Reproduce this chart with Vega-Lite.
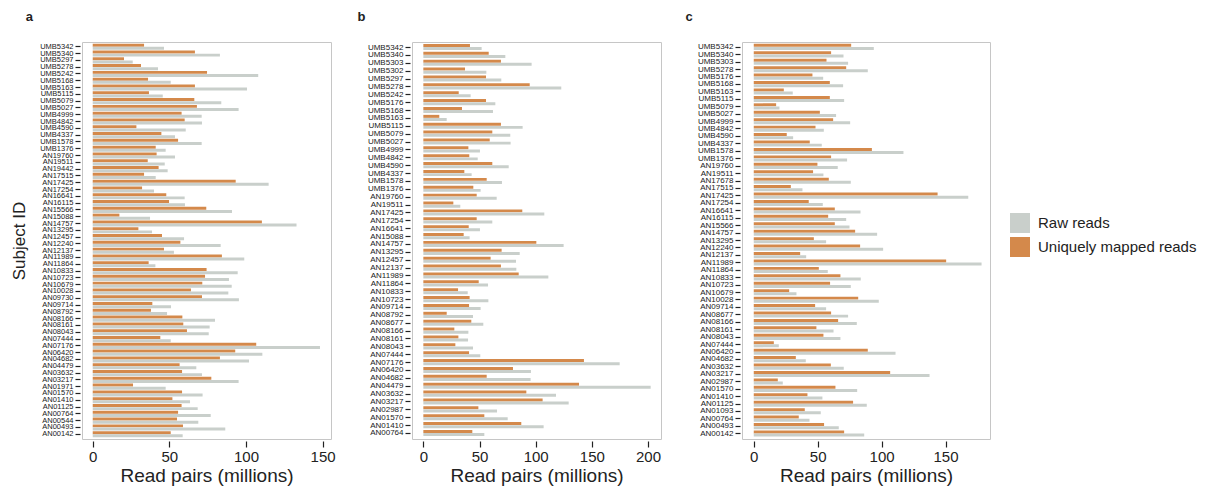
{
"$schema": "https://vega.github.io/schema/vega-lite/v6.json",
"padding": {"left": 10, "top": 10, "right": 5, "bottom": 3},
"bounds": "flush",
"config": {
 "font": "Liberation Sans",
 "view": {"stroke": "#c6c6c6", "strokeWidth": 1},
 "axis": {"domain": false, "grid": false, "tickColor": "#222222", "tickWidth": 1.2, "labelColor": "#222222", "titleColor": "#222222", "titleFontWeight": "normal", "labelFont": "Liberation Sans", "titleFont": "Liberation Sans"},
 "axisX": {"offset": 2, "tickSize": 6, "labelFontSize": 15, "labelPadding": 2, "titleFontSize": 19, "titlePadding": 2},
 "axisY": {"offset": 2, "tickSize": 5, "labelFontSize": 8, "labelPadding": 2, "titleFontSize": 17, "titlePadding": 11},
 "title": {"fontSize": 13, "fontWeight": "bold", "anchor": "start", "frame": "bounds", "offset": 18, "color": "#222222", "font": "Liberation Sans"},
 "legend": {"symbolType": "square", "symbolSize": 400, "symbolStrokeWidth": 0, "labelFontSize": 15, "labelColor": "#222222", "labelOffset": 8, "rowPadding": 4, "labelFont": "Liberation Sans"}
},
"datasets": {
 "a": [
{"id":"UMB5342","t":"uniq","v":33.5},{"id":"UMB5342","t":"raw","v":46.5},
{"id":"UMB5340","t":"uniq","v":66.7},{"id":"UMB5340","t":"raw","v":83.0},
{"id":"UMB5297","t":"uniq","v":20.4},{"id":"UMB5297","t":"raw","v":26.1},
{"id":"UMB5278","t":"uniq","v":31.5},{"id":"UMB5278","t":"raw","v":42.6},
{"id":"UMB5242","t":"uniq","v":74.6},{"id":"UMB5242","t":"raw","v":108.0},
{"id":"UMB5168","t":"uniq","v":36.1},{"id":"UMB5168","t":"raw","v":50.9},
{"id":"UMB5163","t":"uniq","v":66.7},{"id":"UMB5163","t":"raw","v":100.7},
{"id":"UMB5115","t":"uniq","v":36.7},{"id":"UMB5115","t":"raw","v":45.7},
{"id":"UMB5079","t":"uniq","v":66.3},{"id":"UMB5079","t":"raw","v":83.9},
{"id":"UMB5027","t":"uniq","v":68.0},{"id":"UMB5027","t":"raw","v":95.2},
{"id":"UMB4999","t":"uniq","v":58.0},{"id":"UMB4999","t":"raw","v":71.1},
{"id":"UMB4842","t":"uniq","v":60.0},{"id":"UMB4842","t":"raw","v":71.3},
{"id":"UMB4590","t":"uniq","v":28.5},{"id":"UMB4590","t":"raw","v":60.7},
{"id":"UMB4337","t":"uniq","v":44.8},{"id":"UMB4337","t":"raw","v":53.7},
{"id":"UMB1578","t":"uniq","v":55.7},{"id":"UMB1578","t":"raw","v":71.1},
{"id":"UMB1376","t":"uniq","v":41.1},{"id":"UMB1376","t":"raw","v":47.6},
{"id":"AN19760","t":"uniq","v":41.7},{"id":"AN19760","t":"raw","v":53.7},
{"id":"AN19511","t":"uniq","v":35.9},{"id":"AN19511","t":"raw","v":47.0},
{"id":"AN19442","t":"uniq","v":43.0},{"id":"AN19442","t":"raw","v":48.9},
{"id":"AN17515","t":"uniq","v":33.5},{"id":"AN17515","t":"raw","v":41.1},
{"id":"AN17425","t":"uniq","v":93.3},{"id":"AN17425","t":"raw","v":114.8},
{"id":"AN17254","t":"uniq","v":32.2},{"id":"AN17254","t":"raw","v":40.0},
{"id":"AN16641","t":"uniq","v":48.0},{"id":"AN16641","t":"raw","v":60.0},
{"id":"AN16115","t":"uniq","v":49.8},{"id":"AN16115","t":"raw","v":60.2},
{"id":"AN15566","t":"uniq","v":74.1},{"id":"AN15566","t":"raw","v":90.9},
{"id":"AN15088","t":"uniq","v":17.4},{"id":"AN15088","t":"raw","v":37.4},
{"id":"AN14757","t":"uniq","v":110.4},{"id":"AN14757","t":"raw","v":133.0},
{"id":"AN13295","t":"uniq","v":29.8},{"id":"AN13295","t":"raw","v":38.7},
{"id":"AN12457","t":"uniq","v":45.2},{"id":"AN12457","t":"raw","v":59.6},
{"id":"AN12240","t":"uniq","v":57.2},{"id":"AN12240","t":"raw","v":83.5},
{"id":"AN12137","t":"uniq","v":46.5},{"id":"AN12137","t":"raw","v":53.0},
{"id":"AN11989","t":"uniq","v":84.3},{"id":"AN11989","t":"raw","v":98.9},
{"id":"AN11864","t":"uniq","v":36.5},{"id":"AN11864","t":"raw","v":40.9},
{"id":"AN10833","t":"uniq","v":74.3},{"id":"AN10833","t":"raw","v":94.6},
{"id":"AN10723","t":"uniq","v":73.3},{"id":"AN10723","t":"raw","v":88.9},
{"id":"AN10679","t":"uniq","v":71.5},{"id":"AN10679","t":"raw","v":90.7},
{"id":"AN10028","t":"uniq","v":64.1},{"id":"AN10028","t":"raw","v":88.5},
{"id":"AN09730","t":"uniq","v":71.3},{"id":"AN09730","t":"raw","v":95.4},
{"id":"AN09714","t":"uniq","v":38.9},{"id":"AN09714","t":"raw","v":51.1},
{"id":"AN08792","t":"uniq","v":38.0},{"id":"AN08792","t":"raw","v":48.5},
{"id":"AN08166","t":"uniq","v":58.5},{"id":"AN08166","t":"raw","v":79.8},
{"id":"AN08161","t":"uniq","v":59.1},{"id":"AN08161","t":"raw","v":76.3},
{"id":"AN08043","t":"uniq","v":61.5},{"id":"AN08043","t":"raw","v":75.7},
{"id":"AN07444","t":"uniq","v":44.1},{"id":"AN07444","t":"raw","v":50.9},
{"id":"AN07176","t":"uniq","v":106.7},{"id":"AN07176","t":"raw","v":148.3},
{"id":"AN06420","t":"uniq","v":93.0},{"id":"AN06420","t":"raw","v":110.7},
{"id":"AN04682","t":"uniq","v":83.0},{"id":"AN04682","t":"raw","v":102.0},
{"id":"AN04479","t":"uniq","v":56.7},{"id":"AN04479","t":"raw","v":67.6},
{"id":"AN03632","t":"uniq","v":58.3},{"id":"AN03632","t":"raw","v":71.3},
{"id":"AN03217","t":"uniq","v":77.4},{"id":"AN03217","t":"raw","v":95.2},
{"id":"AN01971","t":"uniq","v":26.3},{"id":"AN01971","t":"raw","v":47.6},
{"id":"AN01570","t":"uniq","v":58.3},{"id":"AN01570","t":"raw","v":71.7},
{"id":"AN01410","t":"uniq","v":52.0},{"id":"AN01410","t":"raw","v":63.5},
{"id":"AN01125","t":"uniq","v":58.0},{"id":"AN01125","t":"raw","v":68.5},
{"id":"AN00764","t":"uniq","v":55.7},{"id":"AN00764","t":"raw","v":77.0},
{"id":"AN00544","t":"uniq","v":55.0},{"id":"AN00544","t":"raw","v":68.9},
{"id":"AN00493","t":"uniq","v":58.9},{"id":"AN00493","t":"raw","v":86.5},
{"id":"AN00142","t":"uniq","v":50.9},{"id":"AN00142","t":"raw","v":58.7}
 ],
 "b": [
{"id":"UMB5342","t":"uniq","v":41.5},{"id":"UMB5342","t":"raw","v":51.9},
{"id":"UMB5340","t":"uniq","v":58.2},{"id":"UMB5340","t":"raw","v":73.0},
{"id":"UMB5303","t":"uniq","v":69.1},{"id":"UMB5303","t":"raw","v":96.4},
{"id":"UMB5302","t":"uniq","v":37.1},{"id":"UMB5302","t":"raw","v":56.1},
{"id":"UMB5297","t":"uniq","v":55.8},{"id":"UMB5297","t":"raw","v":69.4},
{"id":"UMB5278","t":"uniq","v":94.7},{"id":"UMB5278","t":"raw","v":122.8},
{"id":"UMB5242","t":"uniq","v":31.5},{"id":"UMB5242","t":"raw","v":42.1},
{"id":"UMB5176","t":"uniq","v":55.8},{"id":"UMB5176","t":"raw","v":64.1},
{"id":"UMB5168","t":"uniq","v":34.4},{"id":"UMB5168","t":"raw","v":62.0},
{"id":"UMB5163","t":"uniq","v":14.2},{"id":"UMB5163","t":"raw","v":20.8},
{"id":"UMB5115","t":"uniq","v":69.1},{"id":"UMB5115","t":"raw","v":88.4},
{"id":"UMB5079","t":"uniq","v":61.4},{"id":"UMB5079","t":"raw","v":77.4},
{"id":"UMB5027","t":"uniq","v":59.1},{"id":"UMB5027","t":"raw","v":77.7},
{"id":"UMB4999","t":"uniq","v":40.1},{"id":"UMB4999","t":"raw","v":50.4},
{"id":"UMB4842","t":"uniq","v":40.9},{"id":"UMB4842","t":"raw","v":48.4},
{"id":"UMB4590","t":"uniq","v":61.4},{"id":"UMB4590","t":"raw","v":76.0},
{"id":"UMB4337","t":"uniq","v":36.5},{"id":"UMB4337","t":"raw","v":43.0},
{"id":"UMB1578","t":"uniq","v":56.4},{"id":"UMB1578","t":"raw","v":70.0},
{"id":"UMB1376","t":"uniq","v":44.5},{"id":"UMB1376","t":"raw","v":51.0},
{"id":"AN19760","t":"uniq","v":47.5},{"id":"AN19760","t":"raw","v":65.3},
{"id":"AN19511","t":"uniq","v":26.7},{"id":"AN19511","t":"raw","v":32.9},
{"id":"AN17425","t":"uniq","v":88.1},{"id":"AN17425","t":"raw","v":107.7},
{"id":"AN17254","t":"uniq","v":47.5},{"id":"AN17254","t":"raw","v":61.4},
{"id":"AN16641","t":"uniq","v":40.4},{"id":"AN16641","t":"raw","v":50.4},
{"id":"AN15088","t":"uniq","v":35.9},{"id":"AN15088","t":"raw","v":41.2},
{"id":"AN14757","t":"uniq","v":100.6},{"id":"AN14757","t":"raw","v":124.9},
{"id":"AN13295","t":"uniq","v":69.7},{"id":"AN13295","t":"raw","v":85.8},
{"id":"AN12457","t":"uniq","v":59.9},{"id":"AN12457","t":"raw","v":82.5},
{"id":"AN12137","t":"uniq","v":69.1},{"id":"AN12137","t":"raw","v":82.8},
{"id":"AN11989","t":"uniq","v":84.9},{"id":"AN11989","t":"raw","v":111.3},
{"id":"AN11864","t":"uniq","v":49.3},{"id":"AN11864","t":"raw","v":57.6},
{"id":"AN10833","t":"uniq","v":30.9},{"id":"AN10833","t":"raw","v":39.5},
{"id":"AN10723","t":"uniq","v":41.2},{"id":"AN10723","t":"raw","v":57.9},
{"id":"AN09714","t":"uniq","v":40.7},{"id":"AN09714","t":"raw","v":51.0},
{"id":"AN08792","t":"uniq","v":20.8},{"id":"AN08792","t":"raw","v":44.2},
{"id":"AN08677","t":"uniq","v":42.7},{"id":"AN08677","t":"raw","v":53.4},
{"id":"AN08166","t":"uniq","v":27.6},{"id":"AN08166","t":"raw","v":40.1},
{"id":"AN08161","t":"uniq","v":31.2},{"id":"AN08161","t":"raw","v":39.8},
{"id":"AN08043","t":"uniq","v":28.5},{"id":"AN08043","t":"raw","v":44.2},
{"id":"AN07444","t":"uniq","v":40.7},{"id":"AN07444","t":"raw","v":50.7},
{"id":"AN07176","t":"uniq","v":143.0},{"id":"AN07176","t":"raw","v":174.8},
{"id":"AN06420","t":"uniq","v":79.8},{"id":"AN06420","t":"raw","v":95.8},
{"id":"AN04682","t":"uniq","v":56.4},{"id":"AN04682","t":"raw","v":95.5},
{"id":"AN04479","t":"uniq","v":138.6},{"id":"AN04479","t":"raw","v":202.4},
{"id":"AN03632","t":"uniq","v":91.7},{"id":"AN03632","t":"raw","v":118.1},
{"id":"AN03217","t":"uniq","v":106.2},{"id":"AN03217","t":"raw","v":129.4},
{"id":"AN02987","t":"uniq","v":49.0},{"id":"AN02987","t":"raw","v":65.6},
{"id":"AN01570","t":"uniq","v":54.3},{"id":"AN01570","t":"raw","v":75.1},
{"id":"AN01410","t":"uniq","v":87.2},{"id":"AN01410","t":"raw","v":107.1},
{"id":"AN00764","t":"uniq","v":43.6},{"id":"AN00764","t":"raw","v":54.3}
 ],
 "c": [
{"id":"UMB5342","t":"uniq","v":76.2},{"id":"UMB5342","t":"raw","v":93.9},
{"id":"UMB5340","t":"uniq","v":60.5},{"id":"UMB5340","t":"raw","v":70.2},
{"id":"UMB5303","t":"uniq","v":56.9},{"id":"UMB5303","t":"raw","v":73.8},
{"id":"UMB5278","t":"uniq","v":72.3},{"id":"UMB5278","t":"raw","v":89.2},
{"id":"UMB5176","t":"uniq","v":45.9},{"id":"UMB5176","t":"raw","v":54.3},
{"id":"UMB5168","t":"uniq","v":59.5},{"id":"UMB5168","t":"raw","v":69.9},
{"id":"UMB5163","t":"uniq","v":23.5},{"id":"UMB5163","t":"raw","v":30.5},
{"id":"UMB5115","t":"uniq","v":59.5},{"id":"UMB5115","t":"raw","v":70.7},
{"id":"UMB5079","t":"uniq","v":17.5},{"id":"UMB5079","t":"raw","v":20.1},
{"id":"UMB5027","t":"uniq","v":51.7},{"id":"UMB5027","t":"raw","v":64.4},
{"id":"UMB4999","t":"uniq","v":62.1},{"id":"UMB4999","t":"raw","v":75.4},
{"id":"UMB4842","t":"uniq","v":48.3},{"id":"UMB4842","t":"raw","v":54.8},
{"id":"UMB4590","t":"uniq","v":25.8},{"id":"UMB4590","t":"raw","v":30.8},
{"id":"UMB4337","t":"uniq","v":43.8},{"id":"UMB4337","t":"raw","v":53.2},
{"id":"UMB1578","t":"uniq","v":92.4},{"id":"UMB1578","t":"raw","v":117.1},
{"id":"UMB1376","t":"uniq","v":60.5},{"id":"UMB1376","t":"raw","v":73.0},
{"id":"AN19760","t":"uniq","v":49.8},{"id":"AN19760","t":"raw","v":65.7},
{"id":"AN19511","t":"uniq","v":46.4},{"id":"AN19511","t":"raw","v":54.5},
{"id":"AN17678","t":"uniq","v":58.7},{"id":"AN17678","t":"raw","v":75.9},
{"id":"AN17515","t":"uniq","v":29.0},{"id":"AN17515","t":"raw","v":38.1},
{"id":"AN17425","t":"uniq","v":143.8},{"id":"AN17425","t":"raw","v":167.8},
{"id":"AN17254","t":"uniq","v":43.0},{"id":"AN17254","t":"raw","v":54.0},
{"id":"AN16641","t":"uniq","v":63.4},{"id":"AN16641","t":"raw","v":83.5},
{"id":"AN16115","t":"uniq","v":58.2},{"id":"AN16115","t":"raw","v":72.3},
{"id":"AN15566","t":"uniq","v":63.4},{"id":"AN15566","t":"raw","v":74.9},
{"id":"AN14757","t":"uniq","v":79.3},{"id":"AN14757","t":"raw","v":96.5},
{"id":"AN13295","t":"uniq","v":47.0},{"id":"AN13295","t":"raw","v":56.6},
{"id":"AN12240","t":"uniq","v":83.2},{"id":"AN12240","t":"raw","v":101.2},
{"id":"AN12137","t":"uniq","v":36.3},{"id":"AN12137","t":"raw","v":41.0},
{"id":"AN11989","t":"uniq","v":150.5},{"id":"AN11989","t":"raw","v":178.2},
{"id":"AN11864","t":"uniq","v":50.9},{"id":"AN11864","t":"raw","v":57.9},
{"id":"AN10833","t":"uniq","v":67.8},{"id":"AN10833","t":"raw","v":83.7},
{"id":"AN10723","t":"uniq","v":59.7},{"id":"AN10723","t":"raw","v":75.9},
{"id":"AN10679","t":"uniq","v":27.7},{"id":"AN10679","t":"raw","v":33.4},
{"id":"AN10028","t":"uniq","v":81.7},{"id":"AN10028","t":"raw","v":97.8},
{"id":"AN09714","t":"uniq","v":48.0},{"id":"AN09714","t":"raw","v":56.6},
{"id":"AN08677","t":"uniq","v":60.5},{"id":"AN08677","t":"raw","v":73.8},
{"id":"AN08166","t":"uniq","v":66.0},{"id":"AN08166","t":"raw","v":80.6},
{"id":"AN08161","t":"uniq","v":49.0},{"id":"AN08161","t":"raw","v":62.4},
{"id":"AN08043","t":"uniq","v":54.5},{"id":"AN08043","t":"raw","v":67.8},
{"id":"AN07444","t":"uniq","v":15.7},{"id":"AN07444","t":"raw","v":19.6},
{"id":"AN06420","t":"uniq","v":89.2},{"id":"AN06420","t":"raw","v":110.9},
{"id":"AN04682","t":"uniq","v":32.9},{"id":"AN04682","t":"raw","v":40.7},
{"id":"AN03632","t":"uniq","v":60.3},{"id":"AN03632","t":"raw","v":70.4},
{"id":"AN03217","t":"uniq","v":106.7},{"id":"AN03217","t":"raw","v":137.5},
{"id":"AN02987","t":"uniq","v":18.8},{"id":"AN02987","t":"raw","v":22.7},
{"id":"AN01570","t":"uniq","v":63.9},{"id":"AN01570","t":"raw","v":80.9},
{"id":"AN01410","t":"uniq","v":42.0},{"id":"AN01410","t":"raw","v":53.7},
{"id":"AN01125","t":"uniq","v":77.7},{"id":"AN01125","t":"raw","v":88.4},
{"id":"AN01093","t":"uniq","v":39.9},{"id":"AN01093","t":"raw","v":52.4},
{"id":"AN00764","t":"uniq","v":35.2},{"id":"AN00764","t":"raw","v":43.6},
{"id":"AN00493","t":"uniq","v":55.0},{"id":"AN00493","t":"raw","v":66.5},
{"id":"AN00142","t":"uniq","v":70.7},{"id":"AN00142","t":"raw","v":86.4}
 ]
},
"spacing": 81,
"hconcat": [
 {
  "data": {"name": "a"},
  "width": 249, "height": 397,
  "title": {"text": "a", "dx": 15},
  "mark": {"type": "bar"},
  "encoding": {
   "y": {"field": "id", "type": "nominal", "sort": null, "scale": {"paddingInner": 0.1, "paddingOuter": 0.25}, "axis": {"title": "Subject ID", "labelFontSize": 7.5}},
   "yOffset": {"field": "t", "type": "nominal", "sort": ["uniq", "raw"], "scale": {"paddingInner": 0.05}},
   "x": {"field": "v", "type": "quantitative", "stack": null, "scale": {"domain": [-7, 155.5], "nice": false, "zero": false}, "axis": {"values": [0, 50, 100, 150], "title": "Read pairs (millions)"}},
   "color": {"field": "t", "type": "nominal", "scale": {"domain": ["raw", "uniq"], "range": ["#c9cfcb", "#d4894b"]}, "legend": {"title": null, "orient": "none", "legendX": 928, "legendY": 171, "labelExpr": "datum.label == 'raw' ? 'Raw reads' : 'Uniquely mapped reads'"}}
  }
 },
 {
  "data": {"name": "b"},
  "width": 249, "height": 397,
  "title": {"text": "b", "dx": -10},
  "mark": {"type": "bar"},
  "encoding": {
   "y": {"field": "id", "type": "nominal", "sort": null, "scale": {"paddingInner": 0.1, "paddingOuter": 0.25}, "axis": {"title": null}},
   "yOffset": {"field": "t", "type": "nominal", "sort": ["uniq", "raw"], "scale": {"paddingInner": 0.05}},
   "x": {"field": "v", "type": "quantitative", "stack": null, "scale": {"domain": [-10.1, 211.6], "nice": false, "zero": false}, "axis": {"values": [0, 50, 100, 150, 200], "title": "Read pairs (millions)"}},
   "color": {"field": "t", "type": "nominal", "scale": {"domain": ["raw", "uniq"], "range": ["#c9cfcb", "#d4894b"]}}
  }
 },
 {
  "data": {"name": "c"},
  "width": 248, "height": 397,
  "title": {"text": "c", "dx": -12},
  "mark": {"type": "bar"},
  "encoding": {
   "y": {"field": "id", "type": "nominal", "sort": null, "scale": {"paddingInner": 0.1, "paddingOuter": 0.25}, "axis": {"title": null}},
   "yOffset": {"field": "t", "type": "nominal", "sort": ["uniq", "raw"], "scale": {"paddingInner": 0.05}},
   "x": {"field": "v", "type": "quantitative", "stack": null, "scale": {"domain": [-9.2, 184.8], "nice": false, "zero": false}, "axis": {"values": [0, 50, 100, 150], "title": "Read pairs (millions)"}},
   "color": {"field": "t", "type": "nominal", "scale": {"domain": ["raw", "uniq"], "range": ["#c9cfcb", "#d4894b"]}}
  }
 }
],
"resolve": {"scale": {"x": "independent", "y": "independent"}}
}
